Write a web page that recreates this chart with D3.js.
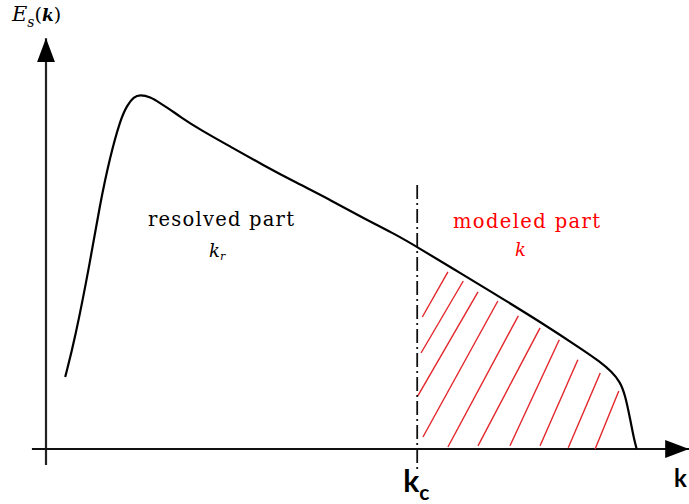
<!DOCTYPE html>
<html>
  <head>
    <meta charset="utf-8">
    <title>Energy spectrum</title>
    <script src="https://d3js.org/d3.v7.min.js"></script>
    <style>
      body { margin: 0; background: #fff; }
      svg { display: block; }
    </style>
  </head>
  <body>
    <script>
      // spectrum (k and E in arbitrary units, 0..100)
      var curveK = [3, 4.5, 6.9, 8.4, 10, 11.6, 12.7, 13.7, 14.7, 16.3, 17.8, 19.4, 20.9, 24.1, 28.8, 33.9, 39.2, 44.4, 49.5, 54.8, 58, 64.7, 70.9, 77.2, 83.4, 86.6, 88.4, 89.7, 90.5, 91.3, 91.9, 92.3];
      var curveE = [18, 27.3, 46.8, 61, 73, 82.3, 86, 88, 88.6, 88, 86.5, 84.9, 83.1, 79.8, 75.6, 71, 66.5, 62.3, 57.8, 53.5, 50.5, 44, 38, 31.8, 25.3, 21.8, 19.3, 16.8, 13.5, 7.3, 2.3, 0];
      var cutoffK = 58;
      // hatch strokes of the modeled part: [k0, E0, k1, E1]
      var hatchLines = [
        [58.8, 33, 62.8, 44.3],
        [58.6, 24, 65.2, 42],
        [58.1, 13.3, 67.5, 39.3],
        [58.9, 3, 70.6, 37],
        [62.8, 0.5, 73.8, 33.3],
        [67.5, 0.8, 77.2, 30.3],
        [72.5, 0.8, 80.2, 27.3],
        [77.2, 0.8, 83.1, 22.3],
        [81.6, 0.3, 86.6, 19],
        [85.8, 0, 89.5, 14.5]
      ];
      var leftLabel = "resolved part";
      var rightLabel = "modeled part";

      var width = 689, height = 504;
      var svg = d3.select("body").append("svg")
        .attr("width", width)
        .attr("height", height);

      var x = d3.scaleLinear().domain([0, 100]).range([46, 686]);
      var y = d3.scaleLinear().domain([0, 100]).range([449, 49]);

      var defs = svg.append("defs");
      defs.append("marker")
        .attr("id", "arrow")
        .attr("viewBox", "0 0 24 18")
        .attr("refX", 24).attr("refY", 9)
        .attr("markerWidth", 24).attr("markerHeight", 18)
        .attr("markerUnits", "userSpaceOnUse")
        .attr("orient", "auto")
        .append("path")
          .attr("d", "M0,0 L24,9 L0,18 Z")
          .attr("fill", "black");

      // axes
      svg.append("line")
        .attr("x1", x(0)).attr("y1", y(-4))
        .attr("x2", x(0)).attr("y2", y(102.7))
        .attr("stroke", "#222").attr("stroke-width", 2.2)
        .attr("marker-end", "url(#arrow)");
      svg.append("line")
        .attr("x1", x(-2.2)).attr("y1", y(0))
        .attr("x2", x(100.5)).attr("y2", y(0))
        .attr("stroke", "#111").attr("stroke-width", 2)
        .attr("marker-end", "url(#arrow)");

      // hatching
      svg.append("g").selectAll("line")
        .data(hatchLines)
        .enter().append("line")
          .attr("x1", function(d) { return x(d[0]); })
          .attr("y1", function(d) { return y(d[1]); })
          .attr("x2", function(d) { return x(d[2]); })
          .attr("y2", function(d) { return y(d[3]); })
          .attr("stroke", "#e3262b")
          .attr("stroke-width", 1.4);

      // cutoff line
      svg.append("line")
        .attr("x1", x(cutoffK)).attr("y1", y(66))
        .attr("x2", x(cutoffK)).attr("y2", y(-6))
        .attr("stroke", "#111").attr("stroke-width", 1.8)
        .attr("stroke-dasharray", "14,4,2,4");

      // spectrum
      var pts = curveK.map(function(k, i) { return [k, curveE[i]]; });
      var line = d3.line()
        .x(function(d) { return x(d[0]); })
        .y(function(d) { return y(d[1]); })
        .curve(d3.curveBasis);
      svg.append("path")
        .datum(pts)
        .attr("d", line)
        .attr("fill", "none")
        .attr("stroke", "black")
        .attr("stroke-width", 2.2);

      // y label E_s(k)
      var ylab = svg.append("text")
        .attr("x", 12).attr("y", 21)
        .attr("font-family", "'DejaVu Serif', serif")
        .attr("font-size", 21);
      ylab.append("tspan").attr("font-style", "italic").text("E");
      ylab.append("tspan").attr("font-style", "italic").attr("font-size", 14).attr("dy", 6).text("s");
      ylab.append("tspan").attr("dy", -6).attr("font-size", 19).text("(");
      ylab.append("tspan").attr("font-weight", "bold").attr("font-style", "italic").attr("font-size", 17).text("k");
      ylab.append("tspan").attr("font-size", 19).text(")");

      // region labels
      svg.append("text")
        .attr("x", 148).attr("y", 226)
        .attr("font-family", "'DejaVu Serif', serif")
        .attr("font-size", 19.5)
        .attr("textLength", 146).attr("lengthAdjust", "spacing")
        .text(leftLabel);
      var kr = svg.append("text")
        .attr("x", 209).attr("y", 257)
        .attr("font-family", "'DejaVu Serif', serif")
        .attr("font-style", "italic")
        .attr("font-size", 18);
      kr.append("tspan").text("k");
      kr.append("tspan").attr("font-size", 11).attr("dy", 3).text("r");

      svg.append("text")
        .attr("x", 453).attr("y", 228)
        .attr("font-family", "'DejaVu Serif', serif")
        .attr("font-size", 19.5)
        .attr("fill", "red")
        .attr("textLength", 147).attr("lengthAdjust", "spacing")
        .text(rightLabel);
      svg.append("text")
        .attr("x", 515).attr("y", 256)
        .attr("font-family", "'DejaVu Serif', serif")
        .attr("font-style", "italic")
        .attr("font-size", 18)
        .attr("fill", "red")
        .text("k");

      // x labels
      var kc = svg.append("text")
        .attr("x", x(cutoffK) - 14).attr("y", 492)
        .attr("font-family", "Lato, sans-serif")
        .attr("font-weight", "bold")
        .attr("font-size", 30);
      kc.append("tspan").text("k");
      kc.append("tspan").attr("font-size", 21).attr("dy", 8).text("c");

      svg.append("text")
        .attr("x", 674).attr("y", 487)
        .attr("font-family", "Lato, sans-serif")
        .attr("font-weight", "bold")
        .attr("font-size", 24)
        .text("k");
    </script>
  </body>
</html>
